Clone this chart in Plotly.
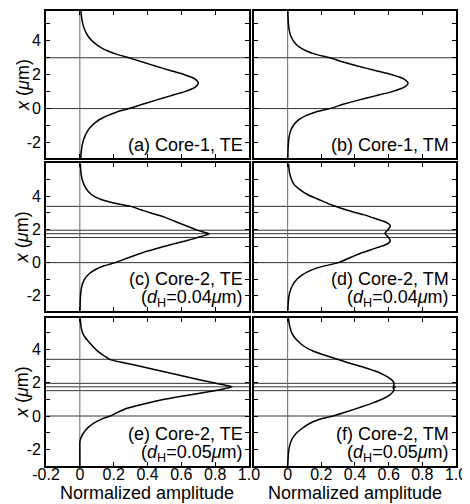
import plotly.graph_objects as go

# ---------------- data ----------------
# vertical coordinate x (um) and normalized amplitude for each panel
pos_a = [-2.95, -2.5, -2.1, -1.7, -1.3, -1.0, -0.8, -0.6, -0.4, -0.2,
         0.0, 0.25, 0.5, 0.75, 1.0, 1.25, 1.5, 1.75, 2.0, 2.25, 2.5, 2.75, 3.0,
         3.2, 3.4, 3.6, 3.8, 4.0, 4.3, 4.7, 5.1, 5.5, 5.9]
amp_a = [0.005, 0.009, 0.015, 0.027, 0.047, 0.072, 0.095, 0.125, 0.166, 0.219,
         0.29, 0.37, 0.45, 0.535, 0.62, 0.68, 0.70, 0.68, 0.62, 0.535, 0.45, 0.37, 0.29,
         0.219, 0.166, 0.125, 0.095, 0.072, 0.047, 0.027, 0.015, 0.009, 0.005]

pos_b = pos_a
amp_b = [0.001, 0.002, 0.004, 0.008, 0.018, 0.034, 0.05, 0.075, 0.112, 0.168,
         0.25, 0.33, 0.42, 0.52, 0.62, 0.69, 0.715, 0.69, 0.62, 0.52, 0.42, 0.33, 0.25,
         0.168, 0.112, 0.075, 0.05, 0.034, 0.018, 0.008, 0.004, 0.002, 0.001]

pos_c = [-2.95, -2.5, -2.0, -1.5, -1.0, -0.7, -0.4, -0.2,
         0.0, 0.2, 0.42, 0.7, 0.93, 1.15, 1.35, 1.53, 1.65, 1.75, 1.85, 1.98,
         2.2, 2.5, 2.75, 3.0, 3.2, 3.4,
         3.6, 3.8, 4.0, 4.3, 4.7, 5.1, 5.5, 6.0]
amp_c = [0.001, 0.002, 0.004, 0.01, 0.028, 0.052, 0.095, 0.14,
         0.21, 0.26, 0.32, 0.40, 0.48, 0.56, 0.64, 0.70, 0.74, 0.765, 0.73, 0.69,
         0.635, 0.56, 0.50, 0.42, 0.36, 0.30,
         0.20, 0.13, 0.085, 0.05, 0.025, 0.012, 0.006, 0.003]

pos_d = [-2.95, -2.5, -2.15, -1.8, -1.35, -1.0, -0.75, -0.5, -0.3,
         0.0, 0.3, 0.6, 0.8, 1.0, 1.15, 1.33, 1.5, 1.62, 1.7, 1.77, 1.84, 1.92,
         2.05, 2.2, 2.35, 2.5, 2.7, 2.9, 3.15, 3.45,
         3.7, 3.9, 4.1, 4.4, 4.7, 5.1, 5.5, 6.0]
amp_d = [0.001, 0.003, 0.006, 0.012, 0.03, 0.055, 0.085, 0.13, 0.18,
         0.30, 0.37, 0.44, 0.50, 0.56, 0.595, 0.61, 0.60, 0.59, 0.582, 0.578, 0.582, 0.59,
         0.60, 0.61, 0.60, 0.57, 0.51, 0.45, 0.36, 0.27,
         0.21, 0.165, 0.12, 0.075, 0.04, 0.02, 0.01, 0.005]

pos_e = [-3.0, -2.0, -1.6, -1.45, -1.24, -1.05, -0.84, -0.64, -0.44, -0.2,
         0.0, 0.2, 0.46, 0.7, 0.96, 1.2, 1.45, 1.6, 1.75, 1.85, 1.95, 2.15, 2.45,
         2.75, 3.05, 3.38,
         3.6, 3.94, 4.2, 4.54, 4.9, 5.3, 5.9]
amp_e = [0.0, 0.0, 0.0, 0.002, 0.01, 0.02, 0.035, 0.055, 0.08, 0.125,
         0.18, 0.22, 0.28, 0.37, 0.48, 0.61, 0.76, 0.84, 0.90, 0.86, 0.81, 0.72, 0.59,
         0.46, 0.33, 0.18,
         0.145, 0.10, 0.075, 0.045, 0.02, 0.008, 0.002]

pos_f = [-3.0, -2.65, -2.2, -1.85, -1.4, -1.05, -0.75, -0.45, -0.2,
         0.0, 0.25, 0.55, 0.8, 1.05, 1.25, 1.45, 1.6, 1.7, 1.75, 1.8, 1.9, 2.1,
         2.3, 2.5, 2.7, 2.9, 3.1, 3.36,
         3.6, 3.9, 4.2, 4.5, 4.8, 5.1, 5.5, 5.9]
amp_f = [0.0, 0.002, 0.005, 0.01, 0.025, 0.05, 0.085, 0.13, 0.19,
         0.27, 0.35, 0.44, 0.51, 0.57, 0.605, 0.625, 0.632, 0.626, 0.64, 0.628, 0.632, 0.625,
         0.60, 0.565, 0.52, 0.46, 0.39, 0.31,
         0.235, 0.15, 0.095, 0.06, 0.035, 0.02, 0.01, 0.004]

# layer boundaries (um)
lines_core1 = [3.0, 0.0]
lines_core2 = [3.4, 1.96, 1.75, 1.52, 0.0]

labels_line1 = ["(a) Core-1, TE", "(b) Core-1, TM", "(c) Core-2, TE",
                "(d) Core-2, TM", "(e) Core-2, TE", "(f) Core-2, TM"]
labels_line2 = [None, None,
                "(<i>d</i><sub>H</sub>=0.04<i>μ</i>m)", "(<i>d</i><sub>H</sub>=0.04<i>μ</i>m)",
                "(<i>d</i><sub>H</sub>=0.05<i>μ</i>m)", "(<i>d</i><sub>H</sub>=0.05<i>μ</i>m)"]

x_tickvals_left = [-0.2, 0.0, 0.2, 0.4, 0.6, 0.8, 1.0]
x_ticktext_left = ["-0.2", "0", "0.2", "0.4", "0.6", "0.8", "1.0"]
x_tickvals_right = [0.0, 0.2, 0.4, 0.6, 0.8, 1.0]
x_ticktext_right = ["0", "0.2", "0.4", "0.6", "0.8", "1.0"]
y_tickvals = [-2, 0, 2, 4]
y_ticktext = ["-2", "0", "2", "4"]
y_minor = [-2, -1, 0, 1, 2, 3, 4, 5]

x_title = "Normalized amplitude"
y_title = "<i>x</i> (<i>μ</i>m)"

# ---------------- figure ----------------
FONT = "Liberation Sans, Arial, sans-serif"
positions = [pos_a, pos_b, pos_c, pos_d, pos_e, pos_f]
amplitudes = [amp_a, amp_b, amp_c, amp_d, amp_e, amp_f]
boundaries = [lines_core1, lines_core1, lines_core2, lines_core2, lines_core2, lines_core2]

x_dom = {1: [0.0, 0.4951], 2: [0.5073, 1.0]}
y_dom = {1: [0.6761, 1.0], 2: [0.3414, 0.6652], 3: [0.0, 0.3260]}
y_rng = {1: [-2.94, 5.76], 2: [-2.9, 6.0], 3: [-3.0, 5.9]}

fig = go.Figure()
layout = {}
for i in range(6):
    n = i + 1
    row = i // 2 + 1
    col = i % 2 + 1
    xs = "" if n == 1 else str(n)
    xref = "x" + xs
    yref = "y" + xs
    fig.add_trace(go.Scatter(x=amplitudes[i], y=positions[i], mode="lines",
                             line=dict(color="black", width=1.5, shape="spline", smoothing=0.6),
                             xaxis=xref, yaxis=yref, showlegend=False, hoverinfo="skip"))
    xa = dict(domain=x_dom[col], anchor=yref, range=[-0.2, 1.0],
              showline=True, linecolor="black", linewidth=1.8, mirror="ticks",
              ticks="inside", ticklen=4, tickwidth=1, tickcolor="black",
              tickmode="array",
              tickvals=x_tickvals_left if col == 1 else x_tickvals_right,
              ticktext=x_ticktext_left if col == 1 else x_ticktext_right,
              showgrid=False, zeroline=False,
              showticklabels=(row == 3), ticklabelstandoff=-7,
              tickfont=dict(family=FONT, size=16, color="black"))
    ya = dict(domain=y_dom[row], anchor=xref, range=y_rng[row],
              showline=True, linecolor="black", linewidth=1.8, mirror="ticks",
              ticks="inside", ticklen=4, tickwidth=1, tickcolor="black",
              tickmode="array", tickvals=y_tickvals, ticktext=y_ticktext,
              minor=dict(tickvals=y_minor, ticks="inside", ticklen=4, tickwidth=1, tickcolor="black"),
              showgrid=False, zeroline=False,
              showticklabels=(col == 1),
              tickfont=dict(family=FONT, size=16, color="black"))
    layout["xaxis" + xs] = xa
    layout["yaxis" + xs] = ya

    # layer boundary lines
    for yv in boundaries[i]:
        fig.add_shape(type="line", xref=xref + " domain", yref=yref,
                      x0=0, x1=1, y0=yv, y1=yv,
                      line=dict(color="#333333", width=1), layer="below")
    # zero amplitude line
    fig.add_shape(type="line", xref=xref, yref=yref + " domain",
                  x0=0, x1=0, y0=0, y1=1,
                  line=dict(color="#666666", width=1), layer="below")

    # y-axis title (left column)
    if col == 1:
        fig.add_annotation(xref="paper", yref=yref + " domain",
                           x=-0.058, y=0.5, xanchor="center", yanchor="middle",
                           textangle=-90, text=y_title, showarrow=False,
                           font=dict(family=FONT, size=18, color="black"))

    xa_pos = 0.982 if col == 1 else 0.975
    if labels_line2[i] is None:
        fig.add_annotation(xref=xref + " domain", yref=yref + " domain",
                           x=xa_pos, y=0.09, xanchor="right", yanchor="middle",
                           text=labels_line1[i], showarrow=False,
                           font=dict(family=FONT, size=18, color="black"))
    else:
        fig.add_annotation(xref=xref + " domain", yref=yref + " domain",
                           x=xa_pos, y=0.215, xanchor="right", yanchor="middle",
                           text=labels_line1[i], showarrow=False,
                           font=dict(family=FONT, size=18, color="black"))
        fig.add_annotation(xref=xref + " domain", yref=yref + " domain",
                           x=xa_pos, y=0.085, xanchor="right", yanchor="middle",
                           text=labels_line2[i], showarrow=False,
                           font=dict(family=FONT, size=18, color="black"))

# x-axis titles under each column
for col in (1, 2):
    fig.add_annotation(xref="paper", yref="paper",
                       x=(x_dom[col][0] + x_dom[col][1]) / 2, y=-0.059,
                       xanchor="center", yanchor="middle",
                       text=x_title, showarrow=False,
                       font=dict(family=FONT, size=18, color="black"))

fig.update_layout(**layout)
# the page body adds an 8 px margin, so the figure is sized to fit inside it
fig.update_layout(width=462, height=496,
                  margin=dict(l=38, r=14, t=1, b=38),
                  paper_bgcolor="white", plot_bgcolor="white",
                  font=dict(family=FONT, color="black"))

fig.write_html("out.html")
